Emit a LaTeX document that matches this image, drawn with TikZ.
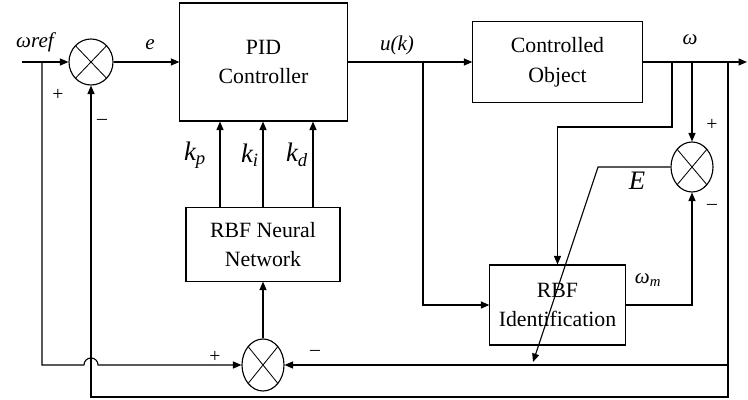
\documentclass[tikz,border=0pt]{standalone}
\usepackage{fontspec}
\setmainfont{Liberation Serif}
\usetikzlibrary{arrows.meta,shapes.geometric,calc}

\tikzset{
  blk/.style={draw,line width=0.8pt,align=center,font=\fontsize{15.5}{21}\selectfont},
  sumx/.style={draw,ellipse,inner sep=0pt,line width=0.8pt,
    path picture={\draw[line width=0.6pt]
      (path picture bounding box.north west) -- (path picture bounding box.south east)
      (path picture bounding box.south west) -- (path picture bounding box.north east);}},
  sig/.style={font=\fontsize{15}{17}\selectfont\itshape},
  klab/.style={font=\fontsize{19}{21}\selectfont\itshape},
  pm/.style={font=\fontsize{14}{16}\selectfont},
}

\begin{document}
\begin{tikzpicture}[x=0.025cm,y=-0.025cm,line width=0.8pt,>={Triangle[length=6pt,width=5pt]}]
\useasboundingbox (0,0) rectangle (748,400);
% blocks
\node[blk,minimum width=4.18cm,minimum height=2.95cm] (PID) at (263.5,62) {PID\\Controller};
\node[blk,minimum width=4.23cm,minimum height=2.03cm] (CO) at (557.5,62) {Controlled\\Object};
\node[blk,minimum width=3.85cm,minimum height=1.83cm] (NN) at (263,244.5) {RBF Neural\\Network};
\node[blk,minimum width=3.38cm,minimum height=2.0cm] (ID) at (557.5,305) {RBF\\Identification};
% summing junctions
\node[sumx,minimum width=1.1cm,minimum height=1.15cm] (s1) at (91,62) {};
\node[sumx,minimum width=1.05cm,minimum height=1.25cm] (s2) at (692,167) {};
\node[sumx,minimum width=1.05cm,minimum height=1.3cm] (s3) at (263,365) {};
% branch points
\coordinate (in) at (22,62);
\coordinate (lb) at (42,62);
\coordinate (ub) at (423,62);
\coordinate (wb1) at (672,62);
\coordinate (wt) at (672,127);
\coordinate (wb2) at (692,62);
\coordinate (wb3) at (728,62);
\coordinate (out) at (747,62);
\coordinate (br) at (728,397);
\coordinate (mr) at (728,365);
\coordinate (Ek) at (598,167);
\coordinate (Ee) at (533,362);
\coordinate (hop) at (s1.south |- s3.west);
% forward path
\draw[->] (in) -- (s1.west);
\draw[->] (s1.east) -- (PID.west);
\draw[->] (PID.east) -- (CO.west);
\draw[->] (CO.east) -- (out);
\draw[->] (ub) |- (ID.west);
% identification loop
\draw[->] (wb1) -- (wt) -| (ID.north);
\draw[->] (wb2) -- (s2.north);
\draw[->] (ID.east) -| (s2.south);
\draw[->] (s2.west) -- (Ek) -- (Ee);
% feedback
\draw[->] (wb3) -- (br) -- (s1.south |- br) -- (s1.south);
\draw[->] (mr) -- (s3.east);
\draw[->] (lb) |- ([xshift=-5pt]hop) arc[start angle=180,end angle=0,radius=5pt] -- (s3.west);
\draw[->] (s3.north) -- (NN.south);
% gains
\foreach \xx/\g/\lx in {220/p/195,263/i/250,313/d/297} {
  \draw[->] (NN.north -| \xx,0) -- (PID.south -| \xx,0);
  \node[klab] (k\g) at (\lx,155) {k\textsubscript{\g}};
}
% labels
\node[sig] (lref) at (35,42) {ωref};
\node[sig] (le) at (150,45) {e};
\node[sig] (lu) at (397,45) {u(k)};
\node[sig] (lw) at (690,40) {ω};
\node[sig] (lwm) at (648,280) {ω\textsubscript{m}};
\node[klab] (lE) at (637,181) {E};
\node[pm] (p1) at (58,95) {+};
\node[pm] (m1) at (102,122) {–};
\node[pm] (p2) at (712,125) {+};
\node[pm] (m2) at (712,207) {–};
\node[pm] (p3) at (215,357) {+};
\node[pm] (m3) at (315,353) {–};
\end{tikzpicture}
\end{document}
